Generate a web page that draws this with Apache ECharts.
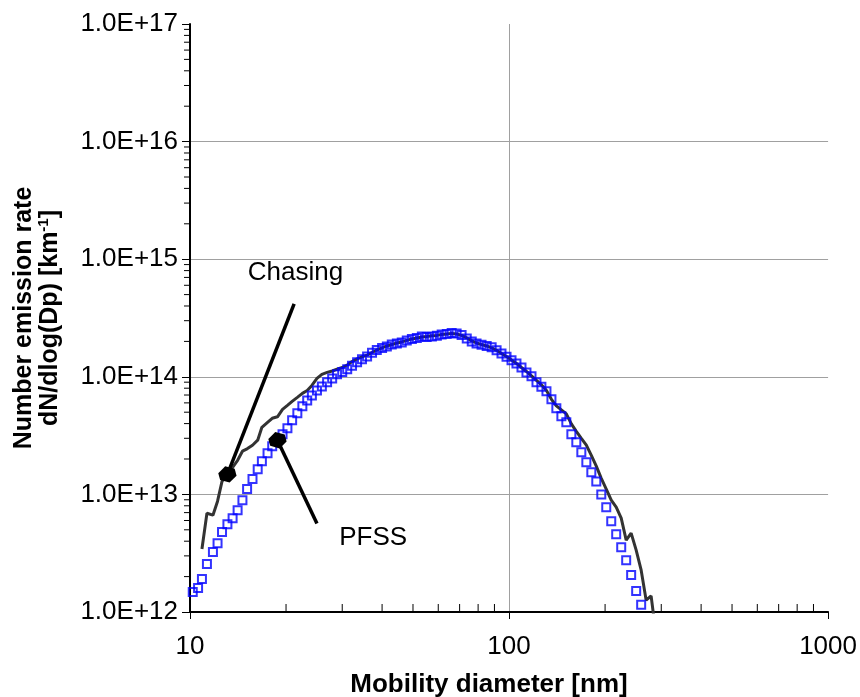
<!DOCTYPE html>
<html>
<head>
<meta charset="utf-8">
<script src="https://cdn.jsdelivr.net/npm/echarts@6/dist/echarts.min.js"></script>
<style>
  html, body { margin: 0; padding: 0; background: #ffffff; }
  #chart { width: 860px; height: 697px; }
</style>
</head>
<body>
<div id="chart"></div>
<script>
// SMPS channel mobility diameters [nm]
const diameters = [
  10.2, 10.6, 10.9, 11.3, 11.8, 12.2, 12.6, 13.1, 13.6, 14.1,
  14.6, 15.1, 15.7, 16.3, 16.8, 17.5, 18.1, 18.8, 19.5, 20.2,
  20.9, 21.7, 22.5, 23.3, 24.1, 25.0, 25.9, 26.9, 27.9, 28.9,
  30.0, 31.1, 32.2, 33.4, 34.6, 35.9, 37.2, 38.5, 40.0, 41.4,
  42.9, 44.5, 46.1, 47.8, 49.6, 51.4, 53.3, 55.2, 57.3, 59.4,
  61.5, 63.8, 66.1, 68.5, 71.0, 73.7, 76.4, 79.1, 82.0, 85.1,
  88.2, 91.4, 94.7, 98.2, 101.8, 105.5, 109.4, 113.4, 117.6, 121.9,
  126.3, 131.0, 135.8, 140.7, 145.9, 151.2, 156.8, 162.5, 168.5, 174.7,
  181.1, 187.7, 194.6, 201.7, 209.1, 216.7, 224.7, 232.9, 241.4, 250.3,
  259.5, 269.0, 278.8, 289.0
];

// PFSS emission rates, one per channel starting at 10.2 nm
const pfss = [
  1.48e12, 1.60e12, 1.91e12, 2.56e12, 3.23e12, 3.85e12, 4.78e12, 5.58e12, 6.28e12, 7.34e12,
  8.93e12, 1.11e13, 1.35e13, 1.64e13, 1.91e13, 2.24e13, 2.57e13, 2.89e13, 3.24e13, 3.65e13,
  4.27e13, 4.89e13, 5.61e13, 6.30e13, 6.95e13, 7.66e13, 8.29e13, 8.97e13, 9.69e13, 1.05e14,
  1.10e14, 1.16e14, 1.24e14, 1.33e14, 1.41e14, 1.49e14, 1.60e14, 1.69e14, 1.76e14, 1.81e14,
  1.88e14, 1.92e14, 1.96e14, 2.04e14, 2.10e14, 2.14e14, 2.20e14, 2.18e14, 2.20e14, 2.23e14,
  2.29e14, 2.31e14, 2.36e14, 2.34e14, 2.27e14, 2.12e14, 2.00e14, 1.92e14, 1.87e14, 1.83e14,
  1.78e14, 1.68e14, 1.58e14, 1.48e14, 1.38e14, 1.30e14, 1.20e14, 1.09e14, 1.01e14, 8.97e13,
  8.21e13, 7.52e13, 6.43e13, 5.39e13, 4.61e13, 4.10e13, 3.24e13, 2.77e13, 2.28e13, 1.88e13,
  1.54e13, 1.29e13, 1.00e13, 7.79e12, 5.92e12, 4.59e12, 3.56e12, 2.76e12, 2.06e12, 1.51e12,
  1.15e12
];

// Chasing emission rates, one per channel starting at 10.9 nm
const chasingFirstChannel = 2;
const chasing = [
  3.43e12, 6.92e12, 6.66e12, 8.76e12, 1.29e13, 1.48e13, 1.70e13, 1.95e13, 2.33e13, 2.44e13,
  2.62e13, 2.89e13, 3.72e13, 4.10e13, 4.44e13, 4.57e13, 5.29e13, 5.72e13, 6.18e13, 6.69e13,
  7.23e13, 7.66e13, 8.45e13, 9.69e13, 1.05e14, 1.09e14, 1.12e14, 1.16e14, 1.20e14, 1.26e14,
  1.35e14, 1.42e14, 1.48e14, 1.53e14, 1.61e14, 1.69e14, 1.76e14, 1.83e14, 1.88e14, 1.94e14,
  1.98e14, 2.04e14, 2.10e14, 2.14e14, 2.18e14, 2.20e14, 2.23e14, 2.25e14, 2.29e14, 2.31e14,
  2.34e14, 2.31e14, 2.25e14, 2.14e14, 2.02e14, 1.94e14, 1.88e14, 1.83e14, 1.76e14, 1.68e14,
  1.58e14, 1.49e14, 1.39e14, 1.30e14, 1.20e14, 1.11e14, 1.02e14, 9.32e13, 8.54e13, 7.66e13,
  6.43e13, 5.66e13, 5.24e13, 4.84e13, 3.98e13, 3.44e13, 3.00e13, 2.62e13, 2.15e13, 1.74e13,
  1.37e13, 1.11e13, 8.93e12, 7.79e12, 6.28e12, 4.09e12, 4.69e12, 3.36e12, 2.27e12, 1.26e12,
  1.37e12, 6.4e11
];

// Axis ranges and tick label values
const xMin = 10, xMax = 1000;
const yMin = 1e12, yMax = 1e17;
const minorMantissas = [2, 3, 4, 5, 6, 7, 8, 9];
const xMinorDecades = [10, 100];
const yMinorDecades = [1e12, 1e13, 1e14, 1e15, 1e16];

// Callout annotations: label position, leader-line end, and the data point it marks
const chasingCallout = { text: 'Chasing', label: [21.4, 7.6e14], lineEnd: [21.2, 4.17e14], channel: 7 };
const pfssCallout = { text: 'PFSS', label: [37.5, 4.25e12], lineEnd: [25.0, 5.66e12], channel: 17 };

const FONT = '"Liberation Sans", Arial, sans-serif';
// filled hexagon used for the callout markers
const HEXAGON = 'path://M0.5,0 L1,0.29 L1,0.71 L0.5,1 L0,0.71 L0,0.29 Z';

const pfssData = pfss.map((v, i) => [diameters[i], v]);
const chasingData = chasing.map((v, i) => [diameters[i + chasingFirstChannel], v]);

const chasingMarked = [diameters[chasingCallout.channel], chasing[chasingCallout.channel - chasingFirstChannel]];
const pfssMarked = [diameters[pfssCallout.channel], pfss[pfssCallout.channel]];

const xMinorData = [];
xMinorDecades.forEach(d => minorMantissas.forEach(m => xMinorData.push([m * d, yMin])));
const yMinorData = [];
yMinorDecades.forEach(d => minorMantissas.forEach(m => yMinorData.push([xMin, m * d])));

const chart = echarts.init(document.getElementById('chart'), null, { renderer: 'canvas' });

chart.setOption({
  animation: false,
  backgroundColor: '#ffffff',
  grid: { left: 190, right: 26, top: 24, bottom: 85, containLabel: false },
  xAxis: {
    type: 'log',
    logBase: 10,
    min: xMin,
    max: xMax,
    axisLine: { show: true, onZero: false, lineStyle: { color: '#000', width: 2 } },
    axisTick: { show: true, inside: false, length: 7, lineStyle: { color: '#000', width: 1 } },
    axisLabel: {
      margin: 22,
      color: '#000',
      fontFamily: FONT,
      fontSize: 26,
      formatter: v => String(Math.round(v))
    },
    splitLine: { show: true, showMinLine: false, showMaxLine: false, lineStyle: { color: '#a0a0a0', width: 1 } },
    minorTick: { show: false },
    minorSplitLine: { show: false }
  },
  yAxis: {
    type: 'log',
    logBase: 10,
    min: yMin,
    max: yMax,
    axisLine: { show: true, onZero: false, lineStyle: { color: '#000', width: 2 } },
    axisTick: { show: true, inside: false, length: 8, lineStyle: { color: '#000', width: 1 } },
    axisLabel: {
      margin: 12,
      color: '#000',
      fontFamily: FONT,
      fontSize: 26,
      formatter: v => '1.0E+' + Math.round(Math.log10(v))
    },
    splitLine: { show: true, showMinLine: false, showMaxLine: false, lineStyle: { color: '#a0a0a0', width: 1 } },
    name: 'Number emission rate\ndN/dlog(Dp) [km{sup|-1}]',
    nameLocation: 'middle',
    nameRotate: 90,
    nameGap: 127,
    nameTextStyle: {
      color: '#000',
      fontFamily: FONT,
      fontWeight: 'bold',
      fontSize: 25,
      lineHeight: 26,
      align: 'center',
      rich: {
        sup: { fontFamily: FONT, fontWeight: 'bold', fontSize: 15, color: '#000', padding: [0, 0, 12, 0] }
      }
    }
  },
  graphic: [{
    type: 'text',
    x: 489,
    y: 685,
    silent: true,
    style: {
      text: 'Mobility diameter [nm]',
      align: 'center',
      verticalAlign: 'middle',
      fill: '#000',
      font: 'bold 26px ' + FONT
    }
  }],
  series: [
    {
      name: 'Chasing',
      type: 'line',
      data: chasingData,
      showSymbol: false,
      symbol: 'none',
      smooth: false,
      clip: true,
      z: 2,
      lineStyle: { color: '#333333', width: 3 },
      markLine: {
        silent: true,
        symbol: ['none', 'none'],
        label: { show: false },
        lineStyle: { color: '#000', width: 3.5, type: 'solid' },
        data: [[{ coord: chasingCallout.lineEnd }, { coord: chasingMarked }]]
      },
      markPoint: {
        silent: true,
        data: [
          { coord: chasingMarked, symbol: HEXAGON, symbolSize: 17, symbolRotate: 15, itemStyle: { color: '#000' }, label: { show: false } },
          {
            coord: chasingCallout.label, symbol: 'circle', symbolSize: 0,
            label: { show: true, position: 'inside', formatter: chasingCallout.text, color: '#000', fontFamily: FONT, fontSize: 26 }
          }
        ]
      }
    },
    {
      name: 'PFSS',
      type: 'scatter',
      data: pfssData,
      symbol: 'rect',
      symbolSize: 8,
      z: 3,
      itemStyle: { color: 'rgba(0,0,0,0)', borderColor: '#0000ff', borderWidth: 2 },
      markLine: {
        silent: true,
        symbol: ['none', 'none'],
        label: { show: false },
        lineStyle: { color: '#000', width: 3.5, type: 'solid' },
        data: [[{ coord: pfssMarked }, { coord: pfssCallout.lineEnd }]]
      },
      markPoint: {
        silent: true,
        data: [
          { coord: pfssMarked, symbol: HEXAGON, symbolSize: 17, symbolRotate: 15, itemStyle: { color: '#000' }, label: { show: false } },
          {
            coord: pfssCallout.label, symbol: 'circle', symbolSize: 0,
            label: { show: true, position: 'inside', formatter: pfssCallout.text, color: '#000', fontFamily: FONT, fontSize: 26 }
          }
        ]
      }
    },
    {
      // minor ticks on the x axis at 2..9 of each decade, pointing into the plot
      type: 'custom',
      silent: true,
      clip: false,
      data: xMinorData,
      renderItem: (params, api) => {
        const p = api.coord([api.value(0), api.value(1)]);
        return { type: 'line', shape: { x1: p[0], y1: p[1] - 1, x2: p[0], y2: p[1] - 8 }, style: { stroke: '#000', lineWidth: 1 } };
      }
    },
    {
      // minor ticks on the y axis at 2..9 of each decade, pointing outward
      type: 'custom',
      silent: true,
      clip: false,
      data: yMinorData,
      renderItem: (params, api) => {
        const p = api.coord([api.value(0), api.value(1)]);
        return { type: 'line', shape: { x1: p[0] - 1, y1: p[1], x2: p[0] - 6, y2: p[1] }, style: { stroke: '#000', lineWidth: 1 } };
      }
    }
  ]
});
</script>
</body>
</html>
